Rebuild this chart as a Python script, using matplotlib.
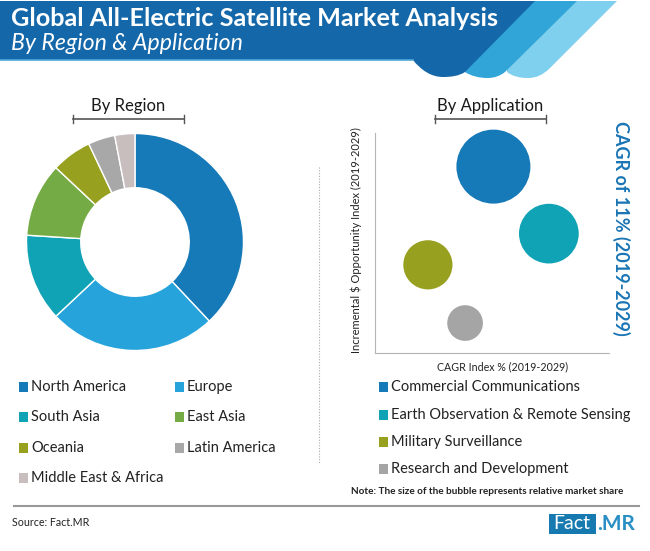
import matplotlib.pyplot as plt
from matplotlib.patches import PathPatch, Rectangle
from matplotlib.path import Path

W, H = 650, 551

# region shares, clockwise from the top
regions = ["North America", "Europe", "South Asia", "East Asia", "Oceania", "Latin America", "Middle East & Africa"]
region_share = [38, 25, 13, 11, 6, 4, 3]
region_colors = ["#1679b8", "#27a3dc", "#10a3b5", "#74ab45", "#97a01f", "#a8a8a8", "#c8bebe"]

# bubbles
applications = ["Commercial Communications", "Earth Observation & Remote Sensing", "Military Surveillance", "Research and Development"]
cagr_index = [50.6, 74.3, 22.6, 38.5]
opportunity_index = [84.7, 54.2, 40, 13.5]
app_share = [43, 28, 19, 10]
app_colors = ["#1679b8", "#0fa3b5", "#98a11f", "#a5a5a5"]


def px_axes(x0, y0, x1, y1):
    # axes from pixel box, y measured from the top
    return fig.add_axes([x0 / W, 1 - y1 / H, (x1 - x0) / W, (y1 - y0) / H])


plt.rcParams["font.family"] = ["Lato", "DejaVu Sans"]
fig = plt.figure(figsize=(W / 100, H / 100), dpi=100, facecolor="white")

bg = fig.add_axes([0, 0, 1, 1])
bg.set_xlim(0, W)
bg.set_ylim(H, 0)
bg.axis("off")

# header banner
C = Path.CURVE4
L = Path.LINETO
M = Path.MOVETO
light = Path([(570, 1), (617, 1), (550, 68), (543, 75), (536, 78), (528, 78),
              (519, 78), (512, 76), (507, 72), (507, 40), (570, 1)],
             [M, L, L, C, C, C, C, C, C, L, L])
mid = Path([(530, 1), (577, 1), (505, 72), (500, 76), (494, 78), (488, 78),
            (479, 78), (471, 76), (465, 72), (465, 40), (530, 1)],
           [M, L, L, C, C, C, C, C, C, L, L])
dark = Path([(0, 1), (535, 1), (465, 72), (459, 76), (451, 77), (443, 77),
             (431, 77), (421, 70), (413, 60), (0, 60), (0, 1)],
            [M, L, L, C, C, C, C, C, C, L, L])
bg.add_patch(PathPatch(light, fc="#7fd0ee", ec="none"))
bg.add_patch(PathPatch(mid, fc="#31a5d8", ec="none"))
bg.add_patch(PathPatch(dark, fc="#1467a8", ec="none"))
bg.plot([0, 413], [60, 60], color="#4fa9d8", lw=1.2)

bg.text(11, 19, "Global All-Electric Satellite Market Analysis", color="white", fontsize=18.2,
        fontweight="bold", va="center")
bg.text(11, 44, "By Region & Application", color="white", fontsize=16.7, style="italic", va="center")

# section headings with brackets
for label, xc, x0, x1 in [("By Region", 128.5, 73, 184), ("By Application", 490, 435, 546)]:
    bg.text(xc, 106, label, fontsize=12, color="#1a1a1a", ha="center", va="center")
    bg.plot([x0, x1], [119, 119], color="#555555", lw=1.2)
    bg.plot([x0, x0], [115, 123], color="#555555", lw=1)
    bg.plot([x1, x1], [115, 123], color="#555555", lw=1)

# divider between the two charts
bg.plot([318.5, 318.5], [167, 463], color="#aaaaaa", lw=0.8, ls=(0, (1, 1.5)))

# donut
ax_pie = px_axes(26.5, 133.5, 243.5, 350.5)
ax_pie.pie(region_share, colors=region_colors, startangle=90, counterclock=False, radius=1,
           wedgeprops=dict(width=0.5, edgecolor="white", linewidth=1))
ax_pie.set_xlim(-1, 1)
ax_pie.set_ylim(-1, 1)

# bubble chart
ax = px_axes(375, 133, 609, 352.7)
ax.scatter(cagr_index, opportunity_index, s=[v * 66 for v in app_share], c=app_colors, clip_on=False, linewidths=0)
ax.set_xlim(0, 100)
ax.set_ylim(0, 100)
ax.set_xticks([])
ax.set_yticks([])
ax.spines["top"].set_visible(False)
ax.spines["right"].set_visible(False)
ax.spines["left"].set_color("#b5b5b5")
ax.spines["bottom"].set_color("#b5b5b5")

bg.text(503, 367, "CAGR Index % (2019-2029)", fontsize=7.7, color="#222222", ha="center", va="center")
bg.text(356, 240, "Incremental $ Opportunity Index (2019-2029)", fontsize=8, color="#222222",
        rotation=90, ha="center", va="center")
bg.text(621, 228, "CAGR of 11% (2019-2029)", fontsize=13, fontweight="bold", color="#1a75b5",
        rotation=-90, ha="center", va="center")

# legends
legend_left = [(19, 387), (175, 387), (19, 417), (175, 417), (19, 448), (175, 448), (19, 478)]
for name, col, (x, y) in zip(regions, region_colors, legend_left):
    bg.add_patch(Rectangle((x, y - 5), 9, 10, fc=col, ec="none"))
    bg.text(x + 12, y, name, fontsize=10.5, color="#222222", va="center")

legend_right = [387, 415, 442, 469]
for name, col, y in zip(applications, app_colors, legend_right):
    bg.add_patch(Rectangle((379, y - 5), 9, 10, fc=col, ec="none"))
    bg.text(391, y, name, fontsize=10.5, color="#222222", va="center")

bg.text(351, 492, "Note: The size of the bubble represents relative market share", fontsize=7.2,
        fontweight="bold", color="#222222", va="center")

# footer
bg.plot([14, 639], [506, 506], color="#999999", lw=1.5)
bg.text(12, 522, "Source: Fact.MR", fontsize=7.7, color="#222222", va="center")
bg.add_patch(Rectangle((549, 514), 46.5, 19.5, fc="#1679b0", ec="none"))
bg.text(572, 523.5, "Fact", fontsize=14, color="white", ha="center", va="center")
bg.text(597, 523.5, ".MR", fontsize=15, fontweight="bold", color="#2a8fc4", va="center")

fig.savefig("out.png", dpi=100)
